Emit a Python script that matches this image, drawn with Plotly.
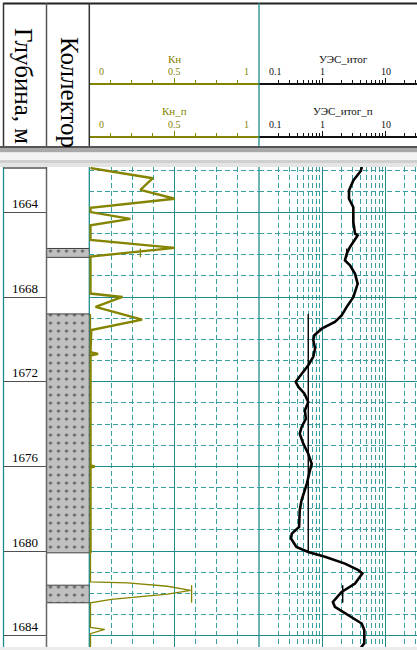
import math
import plotly.graph_objects as go

W, H = 417, 650

# ---- depth scale ---------------------------------------------------------
depth_top, depth_bottom = 1661.85, 1684.53
depth_major = [1664, 1668, 1672, 1676, 1680, 1684]
depth_minor = [d for d in range(1662, 1685) if d % 4]

# ---- collector intervals (top, bottom), m ---------------------------------
collector_top = [1665.70, 1668.79, 1681.61]
collector_bottom = [1666.12, 1680.08, 1682.44]

# ---- Кн curve ------------------------------------------------------------
kn_depth = [1661.90, 1662.38, 1662.93, 1663.35, 1663.78, 1663.98, 1664.30, 1664.60,
            1665.30, 1665.67, 1666.08, 1667.83, 1667.99, 1668.46, 1669.06, 1669.55,
            1670.60, 1670.68, 1670.76, 1675.95, 1676.00, 1676.05, 1680.10,
            1681.45, 1681.50, 1681.66, 1681.85, 1682.03, 1682.28, 1682.44,
            1683.60, 1683.70, 1683.90, 1684.55]
kn_value = [0.00, 0.37, 0.296, 0.50, 0.00, 0.00, 0.237, 0.00,
            0.00, 0.50, 0.00, 0.00, 0.19, 0.03, 0.306, 0.005,
            0.00, 0.045, 0.00, 0.00, 0.025, 0.00, 0.00,
            0.00, 0.22, 0.457, 0.594, 0.457, 0.124, 0.00,
            0.00, 0.084, 0.00, 0.00]
kn_bold_until = 1680.10

# ---- Кн_п (per collector) ------------------------------------------------
knp_value = [0.296, 0.0, 0.60]

# ---- УЭС_итог curve ------------------------------------------------------
ues_depth = [1661.85, 1662.03, 1662.49, 1662.96, 1663.35, 1663.75, 1664.45, 1665.00,
             1665.08, 1665.63, 1665.95, 1666.26, 1666.50, 1666.90, 1667.37, 1668.00,
             1668.46, 1668.86, 1669.17, 1669.49, 1669.80, 1670.04, 1670.43, 1670.82,
             1671.22, 1671.61, 1672.00, 1672.24, 1672.55, 1672.95, 1673.35, 1673.75,
             1674.14, 1674.45, 1674.92, 1675.40, 1675.87, 1676.18, 1676.81, 1677.60,
             1678.07, 1678.86, 1679.17, 1679.40, 1679.80, 1680.04, 1680.27, 1680.59,
             1680.90, 1681.06, 1681.53, 1681.93, 1682.40, 1682.63, 1683.02, 1683.42,
             1683.73, 1684.36, 1684.55]
ues_value = [4.20, 4.08, 3.09, 2.64, 2.64, 3.09, 3.09, 3.29,
             3.62, 2.74, 2.43, 2.28, 2.74, 3.29, 3.62, 3.09,
             2.43, 2.02, 1.58, 0.98, 0.75, 0.72, 0.77, 0.72,
             0.60, 0.47, 0.38, 0.42, 0.52, 0.60, 0.53, 0.55,
             0.47, 0.44, 0.50, 0.60, 0.68, 0.64, 0.57, 0.47,
             0.44, 0.43, 0.33, 0.32, 0.39, 0.60, 1.10, 2.28,
             3.71, 4.29, 3.29, 2.02, 1.47, 1.58, 2.58, 4.19,
             4.61, 4.61, 4.10]

# ---- УЭС_итог_п (per collector) ------------------------------------------
uesp_value = [2.43, 0.60, 2.10]

# ---- scale ticks -----------------------------------------------------------
kn_ticks = [0, 0.5, 1]
kn_minor = [0.125, 0.25, 0.375, 0.625, 0.75, 0.875]
ues_ticks = [0.1, 1, 10]
ues_minor = [0.2, 0.3, 0.4, 0.5, 0.6, 0.7, 0.8, 0.9,
             2, 3, 4, 5, 6, 7, 8, 9, 20, 30]
ues_log_range = [-1, 1.496]

OLIVE = "#848400"
TEAL = "#1f8b8b"
TEAL_D = "#3a9e9e"
SERIF = "Liberation Serif"
DASH = "5px,3px"


def px(x):
    return x / W


def py(y):
    return 1 - y / H


body_dom = [py(647), py(167)]
kn_dom = [px(89.3), px(259)]
ues_dom = [px(259), 1.0]

fig = go.Figure()

# ---- body curves -----------------------------------------------------------
idx = [i for i, d in enumerate(kn_depth) if d <= kn_bold_until]
cut = idx[-1]
fig.add_trace(go.Scatter(x=kn_value[:cut + 1], y=kn_depth[:cut + 1], mode="lines",
                         line=dict(color=OLIVE, width=2.4), xaxis="x", yaxis="y",
                         name="Кн", hoverinfo="skip"))
fig.add_trace(go.Scatter(x=kn_value[cut:], y=kn_depth[cut:], mode="lines",
                         line=dict(color=OLIVE, width=1.3), xaxis="x", yaxis="y",
                         name="Кн", hoverinfo="skip"))


def step_series(values):
    xs, ys = [], []
    for v, t, b in zip(values, collector_top, collector_bottom):
        xs += [v, v, None]
        ys += [t, b, None]
    return xs, ys


kx, ky = step_series(knp_value)
fig.add_trace(go.Scatter(x=kx, y=ky, mode="lines", line=dict(color=OLIVE, width=1.3),
                         xaxis="x", yaxis="y", name="Кн_п", hoverinfo="skip"))

fig.add_trace(go.Scatter(x=ues_value, y=ues_depth, mode="lines",
                         line=dict(color="black", width=2.6), xaxis="x2", yaxis="y2",
                         name="УЭС_итог", hoverinfo="skip"))
ux, uy = step_series(uesp_value)
fig.add_trace(go.Scatter(x=ux, y=uy, mode="lines", line=dict(color="black", width=1.4),
                         xaxis="x2", yaxis="y2", name="УЭС_итог_п", hoverinfo="skip"))

# ---- collector column --------------------------------------------------------
fig.add_trace(go.Bar(
    x=[0.5] * len(collector_top),
    y=[b - t for t, b in zip(collector_top, collector_bottom)],
    base=collector_top, width=1.0, xaxis="x4", yaxis="y4",
    marker=dict(color="#c0c0c0", line=dict(color="#404040", width=1),
                pattern=dict(shape=".", fgcolor="#000000", bgcolor="#c0c0c0",
                             size=8, solidity=0.12)),
    hoverinfo="skip", name="Коллектор"))

# placeholders so the header scales are drawn
for xa, ya, xv in [("x5", "y5", 0.5), ("x6", "y6", 0.5), ("x7", "y5", 1), ("x8", "y6", 1)]:
    fig.add_trace(go.Scatter(x=[xv], y=[0.5], xaxis=xa, yaxis=ya, mode="markers",
                             marker=dict(opacity=0), hoverinfo="skip"))

blank = dict(showticklabels=False, ticks="", zeroline=False, showline=False, fixedrange=True)

ygrid = dict(range=[depth_bottom, depth_top], autorange=False, domain=body_dom,
             tickvals=depth_major, showgrid=True, gridcolor=TEAL, gridwidth=1.3,
             minor=dict(tickvals=depth_minor, showgrid=True, gridcolor=TEAL_D,
                        gridwidth=1.2, griddash=DASH), **blank)

layout_axes = dict(
    xaxis=dict(domain=kn_dom, range=[-0.007, 1], anchor="y", tickvals=kn_ticks[1:2],
               showgrid=True, gridcolor=TEAL, gridwidth=1.3,
               minor=dict(tickvals=kn_minor, showgrid=True, gridcolor=TEAL_D,
                          gridwidth=1.2, griddash=DASH), **blank),
    yaxis=dict(anchor="x", **ygrid),
    xaxis2=dict(domain=ues_dom, type="log", range=ues_log_range, anchor="y2",
                tickvals=ues_ticks[1:], showgrid=True, gridcolor=TEAL, gridwidth=1.3,
                minor=dict(tickvals=ues_minor, showgrid=True, gridcolor=TEAL_D,
                           gridwidth=1.2, griddash=DASH), **blank),
    yaxis2=dict(anchor="x2", matches="y", **ygrid),
    xaxis3=dict(domain=[px(3.5), px(46.5)], range=[0, 1], anchor="y3", showgrid=False, **blank),
    yaxis3=dict(anchor="x3", matches="y", range=[depth_bottom, depth_top], autorange=False,
                domain=body_dom, tickvals=depth_major, showgrid=True, gridcolor="#505050",
                gridwidth=1.3, **blank),
    xaxis4=dict(domain=[px(46.5), px(89.3)], range=[0, 1], anchor="y4", showgrid=False, **blank),
    yaxis4=dict(anchor="x4", matches="y", range=[depth_bottom, depth_top], autorange=False,
                domain=body_dom, showgrid=False, **blank),
)


def header_scale(dom, color, log=False):
    ax = dict(domain=dom, side="top", showline=True, linecolor=color, linewidth=2,
              ticks="outside", ticklen=5, tickwidth=1, tickcolor=color,
              showticklabels=False, showgrid=False, zeroline=False, fixedrange=True,
              minor=dict(ticks="outside", ticklen=3, tickwidth=1, tickcolor=color,
                         showgrid=False))
    if log:
        ax.update(type="log", range=ues_log_range, tickvals=ues_ticks[1:])
        ax["minor"]["tickvals"] = ues_minor
    else:
        ax.update(range=[0, 1], tickvals=kn_ticks[1:2])
        ax["minor"]["tickvals"] = kn_minor
    return ax


row1, row2 = 85.3, 137.5
layout_axes.update(
    xaxis5=dict(anchor="y5", **header_scale([px(89.3), px(259)], OLIVE)),
    xaxis6=dict(anchor="y6", **header_scale([px(89.3), px(259)], OLIVE)),
    xaxis7=dict(anchor="y5", **header_scale(ues_dom, "#111111", log=True)),
    xaxis8=dict(anchor="y6", **header_scale(ues_dom, "#111111", log=True)),
    yaxis5=dict(domain=[py(row1) - 0.02, py(row1)], range=[0, 1], visible=False,
                anchor="x5", fixedrange=True),
    yaxis6=dict(domain=[py(row2) - 0.02, py(row2)], range=[0, 1], visible=False,
                anchor="x6", fixedrange=True),
)

# ---- header & body frame lines ----------------------------------------------
shapes = []


def pline(x0, y0, x1, y1, color, width, layer="above"):
    shapes.append(dict(type="line", xref="paper", yref="paper", x0=px(x0), y0=py(y0),
                       x1=px(x1), y1=py(y1), line=dict(color=color, width=width),
                       layer=layer))


def prect(x0, y0, x1, y1, color):
    shapes.append(dict(type="rect", xref="paper", yref="paper", x0=px(x0), y0=py(y0),
                       x1=px(x1), y1=py(y1), fillcolor=color, line=dict(width=0),
                       layer="above"))


pline(3, 3.5, 417, 3.5, "#222222", 2)
pline(3.5, 3, 3.5, 148, "#333333", 1.5)
pline(46.5, 3, 46.5, 148, "#555555", 1.5)
pline(89.3, 3, 89.3, 148, "#333333", 1.5)
pline(259, 3, 259, 148, TEAL, 1.3)
prect(0, 146, 417, 148.5, "#555555")
prect(0, 148.5, 417, 152.5, "#a9a9a9")
prect(0, 152.5, 417, 160, "#f3f3f3")
prect(0, 160, 417, 163.5, "#cfcfcf")
prect(0, 163.5, 417, 167, "#e4e4e4")
pline(3.5, 167, 3.5, 647, TEAL, 1.3, layer="below")
pline(46.5, 167, 46.5, 647, "#666666", 1.5)
pline(89.3, 167, 89.3, 647, TEAL, 1.3, layer="below")
pline(259, 167, 259, 647, TEAL, 1.3, layer="below")
pline(3.5, 168, 46.5, 168, "#555555", 1.3)
prect(0, 647, 417, 650, "#ececec")

# ---- texts -------------------------------------------------------------------
ann = []
for text, xc, yc in [("Глубина, м", 24, 86), ("Коллектор", 69, 92)]:
    ann.append(dict(text=text, xref="paper", yref="paper", x=px(xc), y=py(yc),
                    xanchor="center", yanchor="middle", textangle=90, showarrow=False,
                    font=dict(family=SERIF, size=25, color="black")))


def scale_labels(xref, ticks, lo, hi, ylab, color, log=False):
    for t in ticks:
        xv = math.log10(t) if log else t
        if abs(xv - lo) < 1e-9:
            anchor, shift = "left", 8
        elif abs(xv - hi) < 1e-9:
            anchor, shift = "right", -8
        else:
            anchor, shift = "center", 0
        ann.append(dict(text=f"{t:g}", xref=xref, yref="paper", x=xv, y=py(ylab),
                        xanchor=anchor, yanchor="middle", xshift=shift, showarrow=False,
                        font=dict(family=SERIF, size=10, color=color)))


for xr, ylab, title, ytitle in [("x5", 71.5, "Кн", 59), ("x6", 124.5, "Кн_п", 110.5)]:
    scale_labels(xr, kn_ticks, 0, 1, ylab, OLIVE)
    ann.append(dict(text=title, xref="paper", yref="paper", x=px(174.3), y=py(ytitle),
                    xanchor="center", yanchor="middle", showarrow=False,
                    font=dict(family=SERIF, size=11, color=OLIVE)))
for xr, ylab, title, ytitle in [("x7", 71.5, "УЭС_итог", 59), ("x8", 124.5, "УЭС_итог_п", 110.5)]:
    scale_labels(xr, ues_ticks, ues_log_range[0], ues_log_range[1], ylab, "#111111", log=True)
    ann.append(dict(text=title, xref="paper", yref="paper", x=px(343), y=py(ytitle),
                    xanchor="center", yanchor="middle", showarrow=False,
                    font=dict(family=SERIF, size=11, color="#111111")))

for d in depth_major:
    ann.append(dict(text=str(d), xref="x3", yref="y3", x=0.5, y=d, yshift=9,
                    xanchor="center", yanchor="middle", showarrow=False,
                    font=dict(family=SERIF, size=13, color="black")))

fig.update_layout(width=W, height=H, margin=dict(l=0, r=0, t=0, b=0, pad=0),
                  paper_bgcolor="white", plot_bgcolor="rgba(0,0,0,0)",
                  showlegend=False, shapes=shapes, annotations=ann, **layout_axes)

fig.write_html("out.html", config={"displayModeBar": False})
